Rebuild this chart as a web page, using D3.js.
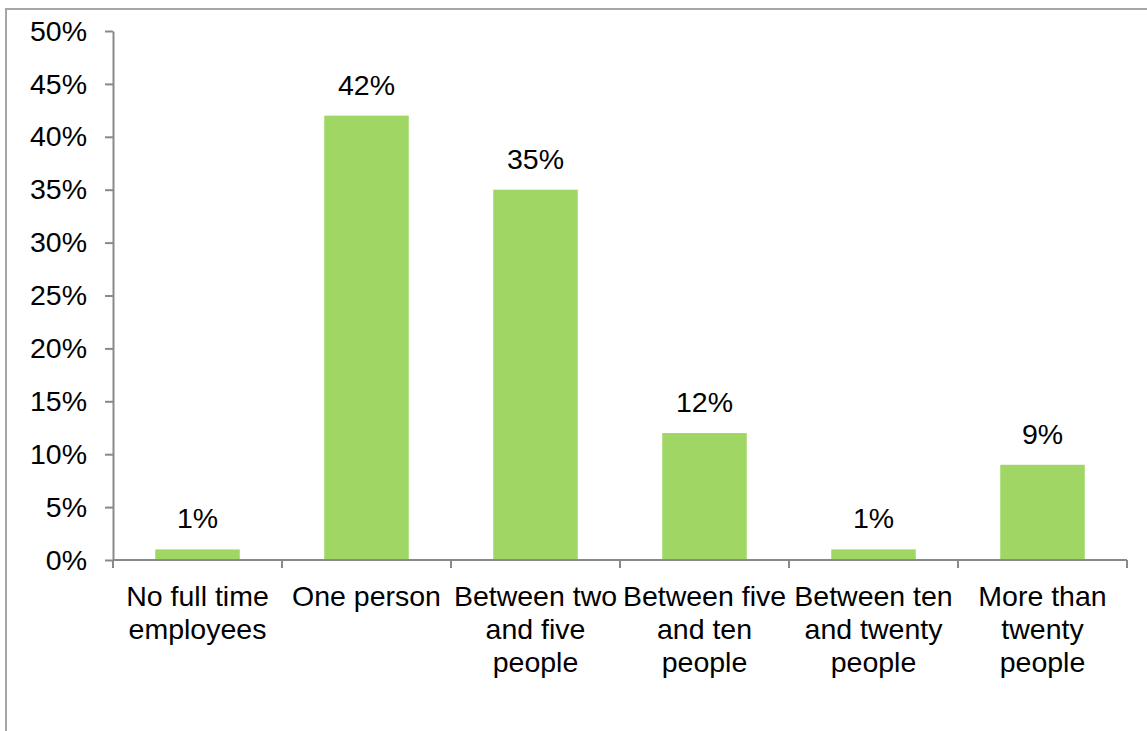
<!DOCTYPE html>
<html>
<head>
<meta charset="utf-8">
<script src="https://cdn.jsdelivr.net/npm/d3@7"></script>
<style>
  html, body { margin: 0; padding: 0; background: #fff; }
  text { font-family: "Liberation Sans", Arial, sans-serif; fill: #000; }
</style>
</head>
<body>
<div id="chart"></div>
<script>
// data
const categories = [
  'No full time employees',
  'One person',
  'Between two and five people',
  'Between five and ten people',
  'Between ten and twenty people',
  'More than twenty people'
];
const categoryLines = [
  ['No full time', 'employees'],
  ['One person'],
  ['Between two', 'and five', 'people'],
  ['Between five', 'and ten', 'people'],
  ['Between ten', 'and twenty', 'people'],
  ['More than', 'twenty', 'people']
];
const values = [0.01, 0.42, 0.35, 0.12, 0.01, 0.09];
const yTicks = [0, 0.05, 0.10, 0.15, 0.20, 0.25, 0.30, 0.35, 0.40, 0.45, 0.50];

// style configs
const width = 1147;
const height = 731;
const barColor = '#a0d664';
const axisColor = '#898989';
const fontSize = 28.5;

const svg = d3.select('#chart').append('svg')
  .attr('width', width)
  .attr('height', height);

// chart frame (only top and left edges visible)
svg.append('path')
  .attr('d', `M6,${height} V9 H${width}`)
  .attr('fill', 'none')
  .attr('stroke', '#a6a6a6')
  .attr('stroke-width', 2);

const x = d3.scaleBand()
  .domain(categories)
  .range([113, 1127])
  .paddingInner(0.5)
  .paddingOuter(0.25);

const y = d3.scaleLinear()
  .domain([0, 0.5])
  .range([560, 31]);

// y axis
const yAxis = svg.append('g')
  .attr('transform', 'translate(113,0)')
  .call(d3.axisLeft(y)
    .tickValues(yTicks)
    .tickFormat(d3.format('.0%'))
    .tickSize(8)
    .tickSizeOuter(0)
    .tickPadding(18));
yAxis.select('.domain').attr('stroke', axisColor).attr('stroke-width', 2);
yAxis.selectAll('.tick line').attr('stroke', axisColor).attr('stroke-width', 2);
yAxis.selectAll('.tick text')
  .style('font-family', '"Liberation Sans", Arial, sans-serif')
  .style('font-size', fontSize + 'px')
  .attr('fill', '#000');

// bars
svg.append('g').selectAll('rect')
  .data(values)
  .enter()
  .append('rect')
  .attr('x', (d, i) => x(categories[i]))
  .attr('y', d => y(d))
  .attr('width', x.bandwidth())
  .attr('height', d => y(0) - y(d))
  .attr('fill', barColor);

// data labels
svg.append('g').selectAll('text')
  .data(values)
  .enter()
  .append('text')
  .attr('x', (d, i) => x(categories[i]) + x.bandwidth() / 2)
  .attr('y', d => y(d) - 21)
  .attr('text-anchor', 'middle')
  .style('font-size', fontSize + 'px')
  .text(d => d3.format('.0%')(d));

// x axis line + ticks at band boundaries
const step = x.step();
const x0 = x.range()[0];
const xAxis = svg.append('g');
xAxis.append('line')
  .attr('x1', x0).attr('x2', x.range()[1])
  .attr('y1', y(0)).attr('y2', y(0))
  .attr('stroke', axisColor).attr('stroke-width', 2);
xAxis.selectAll('.xtick')
  .data(d3.range(categories.length + 1))
  .enter()
  .append('line')
  .attr('class', 'xtick')
  .attr('x1', i => x0 + i * step)
  .attr('x2', i => x0 + i * step)
  .attr('y1', y(0))
  .attr('y2', y(0) + 8)
  .attr('stroke', axisColor).attr('stroke-width', 2);

// category labels
const labels = xAxis.selectAll('.cat')
  .data(categoryLines)
  .enter()
  .append('text')
  .attr('class', 'cat')
  .attr('text-anchor', 'middle')
  .style('font-size', fontSize + 'px');
labels.selectAll('tspan')
  .data((d, i) => d.map(line => ({ line, i })))
  .enter()
  .append('tspan')
  .attr('x', d => x(categories[d.i]) + x.bandwidth() / 2)
  .attr('y', (d, j) => 606 + j * 33)
  .text(d => d.line);
</script>
</body>
</html>
